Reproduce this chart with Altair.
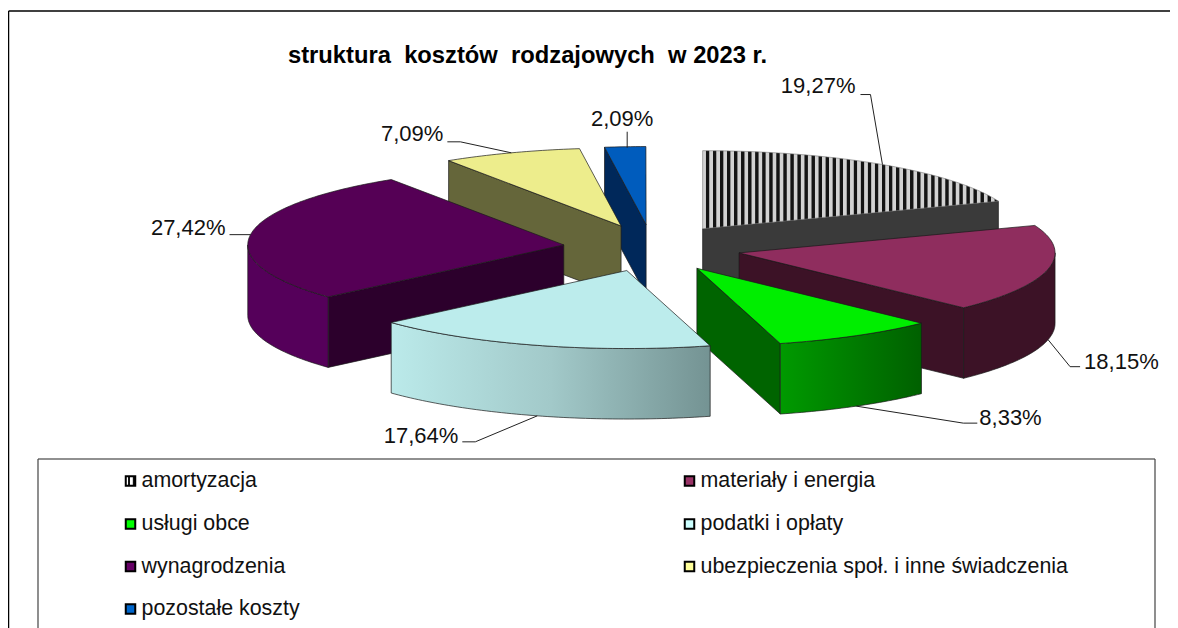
import math
import altair as alt

# ---- chart values ----
categories = ["amortyzacja", "materiały i energia", "usługi obce", "podatki i opłaty",
              "wynagrodzenia", "ubezpieczenia społ. i inne świadczenia", "pozostałe koszty"]
shares = [19.27, 18.15, 8.33, 17.64, 27.42, 7.09, 2.09]
title_text = "struktura  kosztów  rodzajowych  w 2023 r."

# ---- style ----
top_colors = ["#cccccc", "#8f2d5e", "#00ee00", "#bcecec", "#550055", "#eded8c", "#005cbd"]
wall_colors = ["#3a3a3a", "#3c1226", "#006400", "#7a9a9a", "#2c002c", "#65663a", "#00285a"]
outer_fills = {
    1: "#3c1226",
    2: {"gradient": "linear", "x1": 0, "x2": 1, "y1": 0, "y2": 0,
        "stops": [{"offset": 0, "color": "#009a00"}, {"offset": 1, "color": "#006000"}]},
    3: {"gradient": "linear", "x1": 0, "x2": 1, "y1": 0, "y2": 0,
        "stops": [{"offset": 0, "color": "#bbeaea"}, {"offset": 0.5, "color": "#a2c9c9"},
                  {"offset": 1, "color": "#749393"}]},
    4: "#55005a",
}
legend_colors = [None, "#993366", "#00ff00", "#ccffff", "#660066", "#ffff99", "#0066cc"]

# ---- layout of the tilted pie (page pixels) ----
CX, CY, EXPLODE, RX, RY, DEPTH = 652, 248, 89, 316, 78, 70.5
leader_start = [(0, 0), (0, 0), (0, 0), (0, 0), (0, 0), (0, 0), (2, 1)]
leader_elbow = [(-12, -70), (22, 27), (107, 17), (-62, 26), (-21, 0), (-51, -11), (2, -15)]
leader_end = [(-22, -70), (32, 27), (121, 17), (-75, 26), (-21, 0), (-64, -11), (2, -15)]
label_shift = [(-5, -9), (4, -5), (2, -5), (-4, -6), (-4, -7), (-4, -8), (-5, -13)]
label_align = ["right", "left", "left", "right", "right", "right", "center"]
paint_order = [6, 5, 0, 4, 1, 2, 3]
LEFT, TOP, RIGHT, BOTTOM = 12, 12, 1170, 628
xs = alt.Scale(domain=[LEFT, RIGHT], nice=False, zero=False)
ys = alt.Scale(domain=[BOTTOM, TOP], nice=False, zero=False)
proj = alt.Projection(type="identity", scale=1, translate=[-LEFT, -TOP])


def stripes(n, dark="#141414", light="#d2d2d2"):
    stops = []
    for i in range(n):
        a = i / n
        stops += [{"offset": a, "color": light}, {"offset": a + 0.40 / n, "color": light},
                  {"offset": a + 0.52 / n, "color": dark}, {"offset": a + 0.88 / n, "color": dark}]
    stops.append({"offset": 1, "color": light})
    return {"gradient": "linear", "x1": 0, "x2": 1, "y1": 0, "y2": 0, "stops": stops}


def rim(ax, ay, a):
    r = math.radians(a)
    return (ax + RX * math.sin(r), ay - RY * math.cos(r))


def arc(ax, ay, a0, a1, dy=0):
    n = max(2, int(abs(a1 - a0)) + 1)
    out = []
    for i in range(n + 1):
        x, y = rim(ax, ay, a0 + (a1 - a0) * i / n)
        out.append((x, y + dy))
    return out


def piece(points, fill, stroke="#1a1a1a", width=0.7):
    ring = [list(p) for p in points] + [list(points[0])]
    feature = {"type": "Feature", "properties": {},
               "geometry": {"type": "Polygon", "coordinates": [ring]}}
    return (alt.Chart(alt.Data(values=[feature]))
            .mark_geoshape(fill=fill, stroke=stroke, strokeWidth=width, strokeJoin="round")
            .project(**proj.to_dict()))


def radial(ax, ay, a):
    rx, ry = rim(ax, ay, a)
    return [(ax, ay), (rx, ry), (rx, ry + DEPTH), (ax, ay + DEPTH)]


# ---- slices ----
starts, ends = [], []
total = 0.0
for v in shares:
    starts.append(total * 3.6)
    total += v
    ends.append(total * 3.6)

apex = []
for a0, a1 in zip(starts, ends):
    m = math.radians((a0 + a1) / 2)
    apex.append((CX + EXPLODE * math.sin(m), CY - EXPLODE * 0.264 * math.cos(m)))

layers = []
for i in paint_order:
    ax, ay = apex[i]
    a0, a1 = starts[i], ends[i]
    if math.sin(math.radians(a0)) < -1e-6:
        layers.append(piece(radial(ax, ay, a0), wall_colors[i]))
    if math.sin(math.radians(a1)) > 1e-6:
        layers.append(piece(radial(ax, ay, a1), wall_colors[i]))
    lo, hi = max(a0, 90), min(a1, 270)
    if lo < hi:
        layers.append(piece(arc(ax, ay, lo, hi) + arc(ax, ay, hi, lo, DEPTH), outer_fills[i]))
    top = [(ax, ay)] + arc(ax, ay, a0, a1)
    if i == 0:
        layers.append(piece(top, stripes(42), stroke="#777777", width=0.6))
    else:
        layers.append(piece(top, top_colors[i]))

# ---- leader lines and value labels ----
for i, v in enumerate(shares):
    ax, ay = apex[i]
    mid = (starts[i] + ends[i]) / 2
    px, py = rim(ax, ay, mid)
    if 90 < mid < 270:
        py += DEPTH
    path = [(px + leader_start[i][0], py + leader_start[i][1]),
            (px + leader_elbow[i][0], py + leader_elbow[i][1]),
            (px + leader_end[i][0], py + leader_end[i][1])]
    rows = [{"x": x, "y": y, "o": k} for k, (x, y) in enumerate(path)]
    layers.append(alt.Chart(alt.Data(values=rows)).mark_line(color="#222222", strokeWidth=1).encode(
        x=alt.X("x:Q", scale=xs, axis=None), y=alt.Y("y:Q", scale=ys, axis=None), order="o:Q"))
    ex, ey = path[-1]
    label = {"x": ex + label_shift[i][0], "y": ey + label_shift[i][1],
             "t": f"{v:.2f}".replace(".", ",") + "%"}
    layers.append(alt.Chart(alt.Data(values=[label])).mark_text(
        font="Liberation Sans", fontSize=22, align=label_align[i], baseline="middle", color="#111111"
    ).encode(x=alt.X("x:Q", scale=xs, axis=None), y=alt.Y("y:Q", scale=ys, axis=None), text="t:N"))

# ---- title ----
layers.append(alt.Chart(alt.Data(values=[{"x": 288, "y": 56, "t": title_text.replace("  ", "\u00a0 ")}])).mark_text(
    font="Liberation Sans", fontSize=23.75, fontWeight="bold", align="left", baseline="middle", color="#000000"
).encode(x=alt.X("x:Q", scale=xs, axis=None), y=alt.Y("y:Q", scale=ys, axis=None), text="t:N"))


# ---- frame and legend box ----
def seg(x, y, x2, y2, color, width):
    return alt.Chart(alt.Data(values=[{"x": x, "y": y, "x2": x2, "y2": y2}])).mark_rule(
        color=color, strokeWidth=width
    ).encode(x=alt.X("x:Q", scale=xs, axis=None), y=alt.Y("y:Q", scale=ys, axis=None),
             x2="x2:Q", y2="y2:Q")


layers += [seg(8.6, 11, RIGHT, 11, "#000000", 1.3), seg(8.6, 11, 8.6, BOTTOM, "#000000", 1.3),
           seg(38, 459, 1155, 459, "#222222", 1.2), seg(38, 459, 38, BOTTOM, "#444444", 1.2),
           seg(1155, 459, 1155, BOTTOM, "#444444", 1.2)]

# ---- legend ----
legend_x = [130.5, 689.5]
legend_y = [481, 524, 566.5, 609]
for i, name in enumerate(categories):
    col, row = i % 2, i // 2
    x, y = legend_x[col], legend_y[row]
    fill = legend_colors[i] if legend_colors[i] else stripes(2, light="#ffffff", dark="#111111")
    layers.append(alt.Chart(alt.Data(values=[{"x": x, "y": y}])).mark_square(
        size=90, fill=fill, stroke="#000000", strokeWidth=2, opacity=1
    ).encode(x=alt.X("x:Q", scale=xs, axis=None), y=alt.Y("y:Q", scale=ys, axis=None)))
    layers.append(alt.Chart(alt.Data(values=[{"x": x + 11, "y": y, "t": name}])).mark_text(
        font="Liberation Sans", fontSize=21.4, align="left", baseline="middle", color="#111111"
    ).encode(x=alt.X("x:Q", scale=xs, axis=None), y=alt.Y("y:Q", scale=ys, axis=None), text="t:N"))

chart = alt.layer(*layers).properties(
    width=RIGHT - LEFT, height=BOTTOM - TOP,
    autosize=alt.AutoSizeParams(type="none"),
    padding={"left": LEFT - 8, "top": TOP - 8, "right": 0, "bottom": 0},
    background="white",
).configure_view(stroke=None)

chart.save("out.html", embed_options={"renderer": "svg", "actions": False})
